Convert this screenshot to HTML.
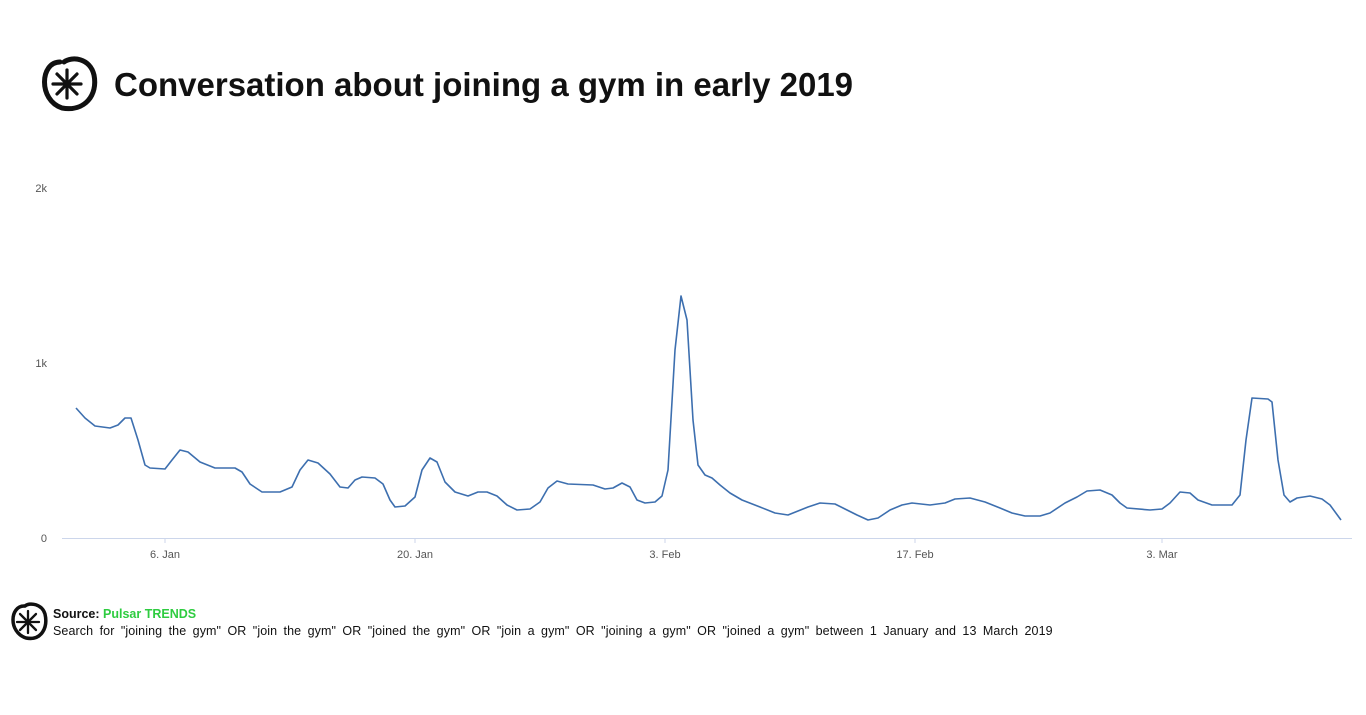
<!DOCTYPE html>
<html><head><meta charset="utf-8"><style>
body{margin:0;width:1366px;height:715px;background:#fff;font-family:"Liberation Sans",sans-serif;overflow:hidden;position:relative}
.t{position:absolute;left:114px;top:66px;font-size:33px;font-weight:bold;color:#111}
.f1{position:absolute;left:53px;top:607px;font-size:12.5px;font-weight:bold;color:#111}
.f1 span{color:#2ecc40}
.f2{position:absolute;left:53px;top:624px;font-size:12.5px;color:#111;letter-spacing:0.1px;word-spacing:2.8px}
</style></head><body>
<svg width="1366" height="715" style="position:absolute;left:0;top:0">
<g fill="none" stroke="#111" stroke-linecap="round">
<path d="M60,62 C40,62 38,100 62,108 C85,112 98,95 94,75 C90,58 72,56 64,62" stroke-width="5"/>
<g stroke-width="3.2"><line x1="67" y1="70" x2="67" y2="98"/><line x1="53" y1="84" x2="81" y2="84"/><line x1="57" y1="74" x2="77" y2="94"/><line x1="57" y1="94" x2="77" y2="74"/></g>
<path d="M24,606 C10,606 8,632 26,638 C42,641 48,627 45,614 C42,604 30,602 25,606" stroke-width="3.5"/>
<g stroke-width="2.3"><line x1="28" y1="611" x2="28" y2="633"/><line x1="17" y1="622" x2="39" y2="622"/><line x1="20" y1="614" x2="36" y2="630"/><line x1="20" y1="630" x2="36" y2="614"/></g>
</g>
<line x1="62" y1="538.5" x2="1352" y2="538.5" stroke="#ccd6eb"/>
<g stroke="#ccd6eb"><line x1="165" y1="538" x2="165" y2="543"/><line x1="415" y1="538" x2="415" y2="543"/><line x1="665" y1="538" x2="665" y2="543"/><line x1="915" y1="538" x2="915" y2="543"/><line x1="1162" y1="538" x2="1162" y2="543"/></g>
<g font-family="Liberation Sans,sans-serif" font-size="11" fill="#555">
<text x="47" y="192" text-anchor="end">2k</text><text x="47" y="367" text-anchor="end">1k</text><text x="47" y="542" text-anchor="end">0</text>
<text x="165" y="558" text-anchor="middle">6. Jan</text><text x="415" y="558" text-anchor="middle">20. Jan</text><text x="665" y="558" text-anchor="middle">3. Feb</text><text x="915" y="558" text-anchor="middle">17. Feb</text><text x="1162" y="558" text-anchor="middle">3. Mar</text>
</g>
<polyline fill="none" stroke="#3d6faf" stroke-width="1.6" stroke-linejoin="round" points="76,408 85,418 95,426 110,428 118,425 125,418 131,418 138,440 145,465 150,468 165,469 172,460 180,450 188,452 200,462 215,468 235,468 242,472 250,484 262,492 280,492 292,487 300,470 308,460 318,463 330,474 340,487 348,488 355,480 362,477 375,478 383,484 390,500 395,507 405,506 415,497 422,470 430,458 437,462 445,482 455,492 468,496 478,492 487,492 497,496 507,505 517,510 530,509 540,502 548,488 557,481 568,484 593,485 605,489 613,488 622,483 630,487 637,500 645,503 655,502 662,496 668,470 675,350 681,296 687,320 693,420 698,465 705,475 712,478 720,485 730,493 742,500 760,507 775,513 788,515 798,511 808,507 820,503 835,504 845,509 857,515 868,520 878,518 890,510 902,505 912,503 930,505 945,503 955,499 970,498 985,502 1000,508 1012,513 1025,516 1040,516 1050,513 1065,503 1077,497 1087,491 1100,490 1112,495 1120,503 1127,508 1150,510 1162,509 1170,503 1180,492 1190,493 1198,500 1212,505 1232,505 1240,495 1246,440 1252,398 1268,399 1272,402 1278,460 1284,495 1290,502 1297,498 1310,496 1322,499 1330,505 1341,520"/>
</svg>
<div class="t">Conversation about joining a gym in early 2019</div>
<div class="f1">Source: <span>Pulsar TRENDS</span></div>
<div class="f2">Search for "joining the gym" OR "join the gym" OR "joined the gym" OR "join a gym" OR "joining a gym" OR "joined a gym" between 1 January and 13 March 2019</div>
</body></html>
